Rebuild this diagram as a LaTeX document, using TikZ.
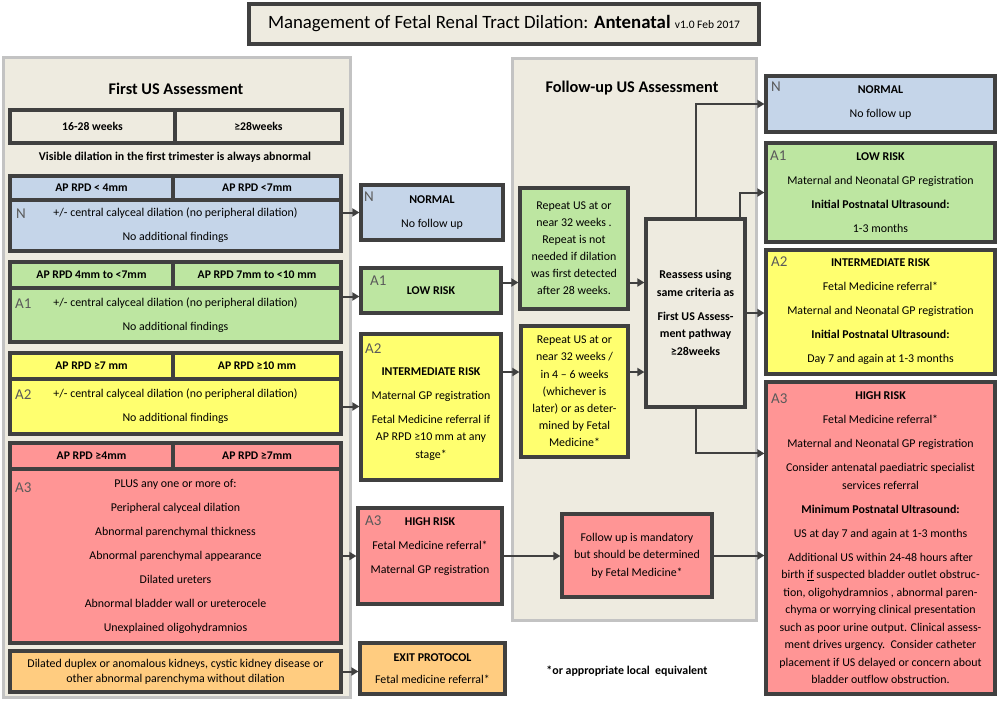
\documentclass[tikz,border=0pt]{standalone}
\usepackage{fontspec}
\setmainfont{Carlito}
\usetikzlibrary{calc,arrows.meta}

\definecolor{edge}{HTML}{404040}
\definecolor{panel}{HTML}{EEEBE0}
\definecolor{panelline}{HTML}{C3C3C3}
\definecolor{blu}{HTML}{C5D5E9}
\definecolor{grn}{HTML}{BDE6A1}
\definecolor{ylw}{HTML}{FFFF6F}
\definecolor{pnk}{HTML}{FF9595}
\definecolor{org}{HTML}{FFCC80}
\definecolor{tagc}{HTML}{5A5A5A}

\tikzset{
  box/.style={draw=edge, line width=3.2pt, align=center, inner sep=1pt,
    font=\fontsize{11.9}{17.5}\selectfont},
  hdr/.style={box, font=\bfseries\fontsize{11.7}{13}\selectfont},
  pan/.style={draw=panelline, fill=panel, line width=3pt},
  tag/.style={text=tagc, font=\fontsize{15}{15}\selectfont, anchor=west, inner sep=0pt},
  arr/.style={draw=edge, line width=2pt, -{Triangle[length=7pt,width=8pt]}},
}

\begin{document}
\begin{tikzpicture}[x=1pt,y=-1pt]
    \useasboundingbox (0,0) rectangle (1000,704);

    % title and panels
    \node[box, fill=panel, minimum width=510, minimum height=40] (title) at (504,24)
      {\fontsize{18.8}{18.8}\selectfont Management of Fetal Renal Tract Dilation: \textbf{Antenatal} {\fontsize{11.5}{11.5}\selectfont v1.0 Feb 2017}};
    \node[pan, minimum width=347, minimum height=640] (panFirst) at (176.5,377) {};
    \node[pan, minimum width=244, minimum height=562] (panFollow) at (634,339) {};
    \node[font=\bfseries\fontsize{16.3}{16.3}\selectfont] (firstHd) at (176,89) {First US Assessment};
    \node[font=\bfseries\fontsize{16.3}{16.3}\selectfont] (followHd) at (632,88) {Follow-up US Assessment};

    % first US assessment
    \node[hdr, minimum width=165, minimum height=33] (wkA) at (92.5,126.5) {16-28 weeks};
    \node[hdr, minimum width=167, minimum height=33] (wkB) at (258.5,126.5) {≥28weeks};
    \node[font=\bfseries\fontsize{11.9}{13}\selectfont] (visible) at (175,157)
      {Visible dilation in the first trimester is always abnormal};

    \node[hdr, fill=blu, minimum width=163, minimum height=24] (bluA) at (91.5,188) {AP RPD < 4mm};
    \node[hdr, fill=blu, minimum width=168, minimum height=24] (bluB) at (257,188) {AP RPD <7mm};
    \node[box, fill=blu, minimum width=331, minimum height=51] (bluBody) at (175.5,225.5)
      {+/- central calyceal dilation (no peripheral dilation)\\[6.5pt] No additional findings};

    \node[hdr, fill=grn, minimum width=163, minimum height=26] (grnA) at (91.5,275) {AP RPD 4mm to <7mm};
    \node[hdr, fill=grn, minimum width=168, minimum height=26] (grnB) at (257,275) {AP RPD 7mm to <10 mm};
    \node[box, fill=grn, minimum width=331, minimum height=54] (grnBody) at (175.5,315)
      {+/- central calyceal dilation (no peripheral dilation)\\[6.5pt] No additional findings};

    \node[hdr, fill=ylw, minimum width=163, minimum height=26] (ylwA) at (91.5,366) {AP RPD ≥7 mm};
    \node[hdr, fill=ylw, minimum width=168, minimum height=26] (ylwB) at (257,366) {AP RPD ≥10 mm};
    \node[box, fill=ylw, minimum width=331, minimum height=55] (ylwBody) at (175.5,406.5)
      {+/- central calyceal dilation (no peripheral dilation)\\[6.5pt] No additional findings};

    \node[hdr, fill=pnk, minimum width=163, minimum height=26] (redA) at (91.5,456) {AP RPD ≥4mm};
    \node[hdr, fill=pnk, minimum width=168, minimum height=26] (redB) at (257,456) {AP RPD ≥7mm};
    \node[box, fill=pnk, minimum width=331, minimum height=174] (redBody) at (175.5,556)
      {PLUS any one or more of:\\[6.5pt] Peripheral calyceal dilation\\[6.5pt] Abnormal parenchymal thickness\\[6.5pt]
       Abnormal parenchymal appearance\\[6.5pt] Dilated ureters\\[6.5pt] Abnormal bladder wall or ureterocele\\[6.5pt]
       Unexplained oligohydramnios};

    \node[box, fill=org, minimum width=331, minimum height=41, font=\fontsize{11.9}{15}\selectfont] (orgBody) at (175.5,671.5)
      {Dilated duplex or anomalous kidneys, cystic kidney disease or\\ other abnormal parenchyma without dilation};

    % first outcomes
    \node[box, fill=blu, minimum width=142, minimum height=55] (lNorm) at (432,212.5)
      {\textbf{NORMAL}\\[6.5pt] No follow up};
    \node[box, fill=grn, minimum width=140, minimum height=45] (lLow) at (431,290.5) {\textbf{LOW RISK}};
    \node[box, fill=ylw, minimum width=140, minimum height=146] (lInter) at (431,407)
      {\mbox{}\\[4pt]\textbf{INTERMEDIATE RISK}\\[6.5pt] Maternal GP registration\\[6.5pt]
       Fetal Medicine referral if\\ AP RPD ≥10 mm at any\\ stage*};
    \node[box, fill=pnk, minimum width=144, minimum height=96] (lHigh) at (430,556)
      {\textbf{HIGH RISK}\\[6.5pt] Fetal Medicine referral*\\[6.5pt] Maternal GP registration\\[3pt]\mbox{}};
    \node[box, fill=org, minimum width=145, minimum height=51] (lExit) at (432.5,668.5)
      {\textbf{EXIT PROTOCOL}\\[4.5pt] Fetal medicine referral*};

    % follow-up US assessment
    \node[box, fill=grn, minimum width=108, minimum height=121, font=\fontsize{11.9}{17}\selectfont] (gRepeat) at (574,248.5)
      {Repeat US at or\\ near 32 weeks .\\ Repeat is not\\ needed if dilation\\ was first detected\\ after 28 weeks.};
    \node[box, fill=ylw, minimum width=107, minimum height=131, font=\fontsize{11.9}{17.2}\selectfont] (yRepeat) at (574.5,391.5)
      {Repeat US at or\\ near 32 weeks /\\ in 4 -- 6 weeks\\ (whichever is\\ later) or as deter-\\ mined by Fetal\\ Medicine*};
    \node[box, fill=panel, minimum width=99, minimum height=188, font=\bfseries\fontsize{11.9}{17.5}\selectfont] (reassess) at (695.5,313)
      {Reassess using\\ same criteria as\\[6.5pt] First US Assess-\\ ment pathway\\ ≥28weeks};
    \node[box, fill=pnk, minimum width=150, minimum height=83] (fuHigh) at (637,555.5)
      {Follow up is mandatory\\ but should be determined\\ by Fetal Medicine*};
    \node[font=\bfseries\fontsize{11.9}{13}\selectfont] (footnote) at (627,671) {*or appropriate local\ \ equivalent};

    % postnatal outcomes
    \node[box, fill=blu, minimum width=229, minimum height=56] (rNorm) at (880.5,104)
      {\textbf{NORMAL}\\[6.5pt] No follow up\\[-12pt]\mbox{}};
    \node[box, fill=grn, minimum width=229, minimum height=99] (rLow) at (880.5,192.5)
      {\textbf{LOW RISK}\\[6.5pt] Maternal and Neonatal GP registration\\[6.5pt]
       \textbf{Initial Postnatal Ultrasound:}\\[6.5pt] 1-3 months};
    \node[box, fill=ylw, minimum width=229, minimum height=124] (rInter) at (880.5,312)
      {\textbf{INTERMEDIATE RISK}\\[6.5pt] Fetal Medicine referral*\\[6.5pt] Maternal and Neonatal GP registration\\[6.5pt]
       \textbf{Initial Postnatal Ultrasound:}\\[6.5pt] Day 7 and again at 1-3 months};
    \node[box, fill=pnk, minimum width=229, minimum height=312] (rHigh) at (880.5,538)
      {\textbf{HIGH RISK}\\[6.5pt] Fetal Medicine referral*\\[6.5pt] Maternal and Neonatal GP registration\\[6.5pt]
       Consider antenatal paediatric specialist\\ services referral\\[6.5pt]
       \textbf{Minimum Postnatal Ultrasound:}\\[6.5pt] US at day 7 and again at 1-3 months\\[6.5pt]
       Additional US within 24-48 hours after\\ birth \underline{if} suspected bladder outlet obstruc-\\
       tion, oligohydramnios , abnormal paren-\\ chyma or worrying clinical presentation\\
       such as poor urine output. Clinical assess-\\ ment drives urgency.\ \ Consider catheter\\
       placement if US delayed or concern about\\ bladder outflow obstruction.};

    % risk tags
    \node[tag] (tBlu) at (16,214) {N};
    \node[tag] (tGrn) at (15,304) {A1};
    \node[tag] (tYlw) at (15,395) {A2};
    \node[tag] (tRed) at (15,488) {A3};
    \node[tag] (tlNorm) at (364,197) {N};
    \node[tag] (tlLow) at (370,281) {A1};
    \node[tag] (tlInter) at (365,349) {A2};
    \node[tag] (tlHigh) at (365,521) {A3};
    \node[tag] (trNorm) at (771,87) {N};
    \node[tag] (trLow) at (770,156) {A1};
    \node[tag] (trInter) at (771,262) {A2};
    \node[tag] (trHigh) at (771,399) {A3};

    % connectors
    \coordinate (grnIn) at ($(lLow.west)+(0,6)$);
    \coordinate (lowOut) at ($(lLow.east)+(0,-8)$);
    \coordinate (interOut) at ($(lInter.east)+(0,-35)$);
    \coordinate (highIn) at ($(rHigh.north west)+(0,73)$);

    \draw[arr] (lNorm.west -| bluBody.east) -- (lNorm.west);
    \draw[arr] (grnIn -| grnBody.east) -- (grnIn);
    \draw[arr] (ylwBody.east) -- (ylwBody.east -| lInter.west);
    \draw[arr] (redBody.east) -- (redBody.east -| lHigh.west);
    \draw[arr] (orgBody.east) -- (orgBody.east -| lExit.west);
    \draw[arr] (lowOut) -- (lowOut -| gRepeat.west);
    \draw[arr] (interOut) -- (interOut -| yRepeat.west);
    \draw[arr] (lowOut -| gRepeat.east) -- (lowOut -| reassess.west);
    \draw[arr] (interOut -| yRepeat.east) -- (interOut -| reassess.west);
    \draw[arr] (lHigh.east) -- (lHigh.east -| fuHigh.west);
    \draw[arr] (fuHigh.east) -- (fuHigh.east -| rHigh.west);
    \draw[arr] (reassess.north) |- (rNorm.west);
    \draw[arr] ($(reassess.north east)+(-7,0)$) |- (rLow.west);
    \draw[arr] (reassess.east) -- (reassess.east -| rInter.west);
    \draw[arr] (reassess.south) |- (highIn);
  \end{tikzpicture}
\end{document}
